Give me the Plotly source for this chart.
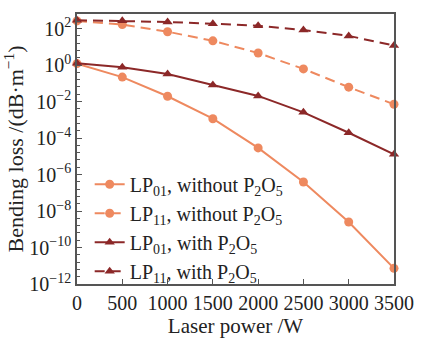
import plotly.graph_objects as go

power = [0, 500, 1000, 1500, 2000, 2500, 3000, 3500]
# log10 of bending loss (dB/m)
lp01_without_log = [0.08, -0.66, -1.71, -2.94, -4.54, -6.41, -8.60, -11.14]
lp11_without_log = [2.42, 2.22, 1.83, 1.33, 0.66, -0.21, -1.21, -2.15]
lp01_with_log = [0.10, -0.12, -0.49, -1.09, -1.69, -2.59, -3.71, -4.89]
lp11_with_log = [2.46, 2.43, 2.36, 2.27, 2.16, 1.92, 1.60, 1.07]

names = ["LP<sub>01</sub>, without P<sub>2</sub>O<sub>5</sub>",
         "LP<sub>11</sub>, without P<sub>2</sub>O<sub>5</sub>",
         "LP<sub>01</sub>, with P<sub>2</sub>O<sub>5</sub>",
         "LP<sub>11</sub>, with P<sub>2</sub>O<sub>5</sub>"]

y_tick_exps = [2, 0, -2, -4, -6, -8, -10, -12]
y_tick_text = ["10<sup>%d</sup>" % e if e >= 0 else "10<sup>\u2212%d</sup>" % (-e) for e in y_tick_exps]
x_ticks = [0, 500, 1000, 1500, 2000, 2500, 3000, 3500]

light = "rgb(238,137,95)"
dark = "rgb(140,40,40)"
FONT = "Liberation Serif"

series = [
    (lp01_without_log, light, "solid", "circle"),
    (lp11_without_log, light, "10px,6px", "circle"),
    (lp01_with_log, dark, "solid", "triangle-up"),
    (lp11_with_log, dark, "10px,6px", "triangle-up"),
]

fig = go.Figure()
for (vals, col, dash, sym), nm in zip(series, names):
    fig.add_trace(go.Scatter(
        x=power, y=[10 ** v for v in vals], name=nm, mode="lines+markers",
        line=dict(color=col, width=2, dash=dash),
        marker=dict(color=col, symbol=sym, size=9),
        cliponaxis=False,
    ))

fig.update_layout(
    width=426, height=340,
    margin=dict(l=77, r=25, t=14, b=47),
    paper_bgcolor="white", plot_bgcolor="white",
    font=dict(family=FONT, size=20, color="#222"),
    showlegend=True,
    legend=dict(x=0.04, y=-0.025, xanchor="left", yanchor="bottom",
                bgcolor="rgba(0,0,0,0)", font=dict(size=20, family=FONT),
                tracegroupgap=0, itemwidth=30),
)
fig.update_xaxes(
    range=[0, 3500], tickvals=x_ticks, ticks="inside", ticklen=5,
    tickcolor="#555", showline=True, linecolor="#555", linewidth=1.5,
    mirror=True, showgrid=False, zeroline=False,
    title=dict(text="Laser power /W", standoff=0, font=dict(size=21)),
    tickfont=dict(size=20),
)
fig.update_yaxes(
    type="log", range=[-12, 2.8],
    tickvals=[10 ** e for e in y_tick_exps], ticktext=y_tick_text,
    ticks="inside", ticklen=5, tickcolor="#555",
    minor=dict(dtick=0.4, ticks="inside", ticklen=3, tickcolor="#555"),
    showline=True, linecolor="#555", linewidth=1.5, mirror=True,
    showgrid=False, zeroline=False,
    title=dict(text="Bending loss /(dB\u00b7m<sup>\u22121</sup>)", standoff=2, font=dict(size=22)),
    tickfont=dict(size=20),
)

fig.write_html("out.html")
